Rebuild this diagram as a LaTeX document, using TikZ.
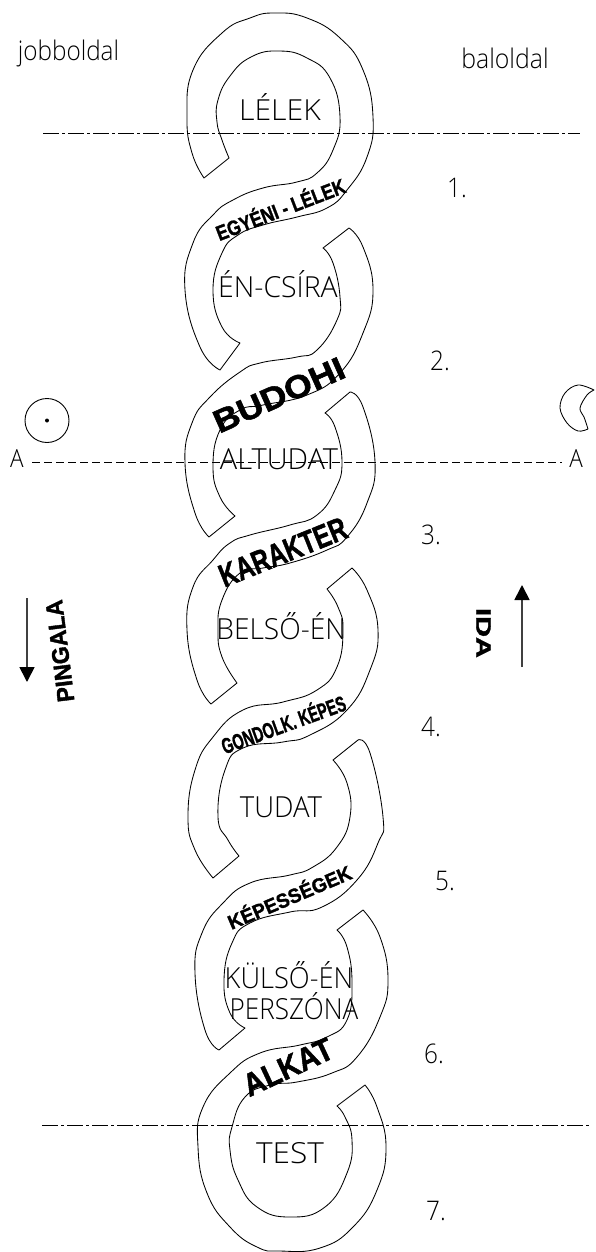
\documentclass[tikz,border=0pt]{standalone}
\usepackage{fontspec}
\usepackage{graphicx}
\usetikzlibrary{arrows.meta}
\setmainfont{Liberation Sans}
\newfontfamily\thinf{Open Sans Light}
\newfontfamily\heavyf[BoldFeatures={FakeBold=1.6}]{Liberation Sans}
\tikzset{
  band/.style={draw=black,line width=0.85pt,line join=round,fill=none},
  plainlabel/.style={anchor=base,inner sep=0pt,text=black,font=\thinf\fontsize{29}{29}\selectfont},
  sidelabel/.style={anchor=base,inner sep=0pt,text=black,font=\thinf\fontsize{27}{27}\selectfont},
  numlabel/.style={anchor=base,inner sep=0pt,text=black,font=\thinf\fontsize{27}{27}\selectfont},
  boldlabel/.style={anchor=center,inner sep=0pt,font=\heavyf\bfseries},
  dashdot/.style={line width=1pt,dash pattern=on 16pt off 3pt on 3pt off 3pt},
  shortdash/.style={line width=1pt,dash pattern=on 8pt off 4pt},
  bigarrow/.style={line width=1.7pt,draw=black!75,-{Triangle[length=15pt,width=15pt,color=black]}},
}
\newcommand{\bfsize}[1]{\fontsize{#1}{#1}\selectfont}
\begin{document}
\begin{tikzpicture}[x=1pt,y=-1pt]
\useasboundingbox (0,0) rectangle (595,1252);
\clip (0,0) rectangle (595,1252);

% segment 1 (top, LELEK into EN-CSIRA)
\draw[band] plot[smooth,tension=.8] coordinates {(204,178)(192,153)(187,117)(193,70)(222,33)(250,18)(275,13)(307,18)(340,38)(363,70)(373,117)(367,157)(347,190)(327,208)(297,217)(263,225)(238,235)(222,253)(213,290)(222,327)(240,343)}
 -- plot[smooth,tension=.8] coordinates {(220,370)(200,347)(185,290)(193,243)(213,215)(233,200)(263,188)(297,182)(317,173)(333,150)(340,117)(330,78)(307,58)(279,51)(251,57)(230,76)(218,100)(217,122)(222,140)(229,158)} -- cycle;
% segment 2
\draw[band] plot[smooth,tension=.8] coordinates {(349,228)(363,247)(373,290)(363,333)(340,373)(307,395)(263,405)(240,410)(220,430)(213,467)(220,497)(235,516)}
 -- plot[smooth,tension=.8] coordinates {(209,537)(195,513)(185,463)(192,423)(210,397)(240,372)(260,363)(297,357)(317,350)(337,320)(340,297)(333,263)(323,248)} -- cycle;
% segment 3
\draw[band] plot[smooth,tension=.8] coordinates {(350,392)(363,407)(375,462)(367,503)(347,537)(327,550)(290,563)(263,568)(240,573)(222,600)(218,630)(222,657)(237,683)}
 -- plot[smooth,tension=.8] coordinates {(211,704)(197,680)(187,630)(193,587)(213,560)(230,543)(250,535)(290,525)(317,515)(335,490)(342,462)(335,427)(325,413)} -- cycle;
% segment 4
\draw[band] plot[smooth,tension=.8] coordinates {(352,568)(367,590)(378,630)(370,670)(347,710)(310,735)(283,742)(243,748)(225,770)(218,817)(228,840)(239,856)}
 -- plot[smooth,tension=.8] coordinates {(213,878)(195,850)(188,817)(195,770)(213,737)(243,710)(283,702)(317,690)(337,667)(343,630)(338,607)(327,589)} -- cycle;
% segment 5
\draw[band] plot[smooth,tension=.8] coordinates {(358,740)(370,753)(383,817)(378,843)(357,880)(322,907)(290,912)(250,923)(232,943)(224,980)(230,1013)(245,1028)}
 -- plot[smooth,tension=.8] coordinates {(219,1050)(205,1030)(195,973)(202,933)(223,903)(250,883)(290,875)(313,867)(337,847)(350,817)(347,783)(333,760)} -- cycle;
% segment 6 (into TEST, bottom)
\draw[band] plot[smooth,tension=.8] coordinates {(363,910)(380,937)(388,980)(380,1017)(357,1057)(332,1073)(297,1082)(270,1085)(245,1097)(232,1127)(230,1150)(238,1180)(257,1207)(290,1217)(325,1207)(347,1173)(352,1140)(345,1117)(337,1106)}
 -- plot[smooth,tension=.8] coordinates {(365,1085)(377,1107)(386,1147)(377,1190)(353,1227)(320,1248)(280,1251)(257,1247)(230,1227)(207,1193)(198,1147)(203,1107)(230,1073)(260,1053)(300,1045)(327,1037)(347,1020)(352,983)(347,947)(337,930)} -- cycle;

% horizontal lines
\coordinate (topL) at (43,134); \coordinate (topR) at (580,134);
\coordinate (botL) at (42,1125); \coordinate (botR) at (590,1125);
\draw[dashdot] (topL) -- (topR);
\draw[dashdot] (botL) -- (botR);
\node[sidelabel] (aL) at (17,467) {\fontsize{25}{25}\selectfont\scalebox{.9}[1]{A}};
\node[sidelabel] (aR) at (576,467) {\fontsize{25}{25}\selectfont\scalebox{.9}[1]{A}};
\coordinate (aLd) at (32,462); \coordinate (aRd) at (562,462);
\draw[shortdash] (aLd) -- (aRd);

% plain labels
\node[plainlabel] (lelek) at (280,121) {\scalebox{1.04}[1]{LÉLEK}};
\node[plainlabel] (encsira) at (278,297) {\scalebox{.98}[1]{ÉN-CSÍRA}};
\node[plainlabel] (altudat) at (279,469) {\scalebox{1}[1]{ALTUDAT}};
\node[plainlabel] (belso) at (281,639) {\scalebox{.97}[1]{BELSŐ-ÉN}};
\node[plainlabel] (tudat) at (281,817) {\scalebox{.95}[1]{TUDAT}};
\node[plainlabel] (kulso) at (289,988) {\scalebox{.94}[1]{KÜLSŐ-ÉN}};
\node[plainlabel] (persona) at (294,1019) {\scalebox{.9}[1]{PERSZÓNA}};
\node[plainlabel] (test) at (290,1163) {\scalebox{1.09}[1]{TEST}};

% bold band labels
\node[boldlabel,rotate=21] (egyeni) at (280,208) {\bfsize{20}\scalebox{.86}[1.05]{EGYÉNI - LÉLEK}};
\node[boldlabel,rotate=24] (budohi) at (279,395) {\bfsize{28}\scalebox{1.27}[1.15]{BUDOHI}};
\node[boldlabel,rotate=22] (karakter) at (283,552) {\bfsize{28}\scalebox{.86}[1.15]{KARAKTER}};
\node[boldlabel,rotate=20] (gondolk) at (283,723) {\bfsize{19}\scalebox{.76}[1.15]{GONDOLK. KÉPES}};
\node[boldlabel,rotate=23] (kepess) at (289,896) {\bfsize{20}\scalebox{.96}[1]{KÉPESSÉGEK}};
\node[boldlabel,rotate=25] (alkat) at (288,1067) {\bfsize{32}\scalebox{.9}[1]{ALKAT}};
\node[boldlabel,rotate=97] (pingala) at (60,651) {\bfsize{24}\scalebox{.95}[1]{PINGALA}};
\node[boldlabel,rotate=-90] (ida) at (483.5,633) {\bfsize{21}\scalebox{1.38}[1]{IDA}};

% side labels
\node[sidelabel] (jobb) at (68.5,61) {\scalebox{.9}[1]{jobboldal}};
\node[sidelabel] (bal) at (505,69) {\scalebox{.92}[1]{baloldal}};
\node[numlabel] (n1) at (457,197) {\scalebox{.9}[1]{1.}};
\node[numlabel] (n2) at (440,370) {\scalebox{.9}[1]{2.}};
\node[numlabel] (n3) at (431,544) {\scalebox{.9}[1]{3.}};
\node[numlabel] (n4) at (431,736) {\scalebox{.9}[1]{4.}};
\node[numlabel] (n5) at (445,890) {\scalebox{.9}[1]{5.}};
\node[numlabel] (n6) at (434,1063) {\scalebox{.9}[1]{6.}};
\node[numlabel] (n7) at (436,1220) {\scalebox{.9}[1]{7.}};

% arrows
\coordinate (pa) at (27,598); \coordinate (pb) at (27,682);
\draw[bigarrow] (pa) -- (pb);
\coordinate (ia) at (522,667); \coordinate (ib) at (522,585);
\draw[bigarrow] (ia) -- (ib);

% sun
\node[circle,draw=black,line width=.9pt,minimum size=44pt,inner sep=0pt] (sun) at (47,420.5) {};
\fill (sun.center) circle (2pt);
% moon
\draw[band] plot[smooth,tension=.6] coordinates {(594,390)(578,385)(565,393)(560,408)(567,423)(578,431)(588,429)}
 -- plot[smooth,tension=.6] coordinates {(588,429)(584,417)(580,408)(587,395)(594,390)} -- cycle;
\end{tikzpicture}
\end{document}
